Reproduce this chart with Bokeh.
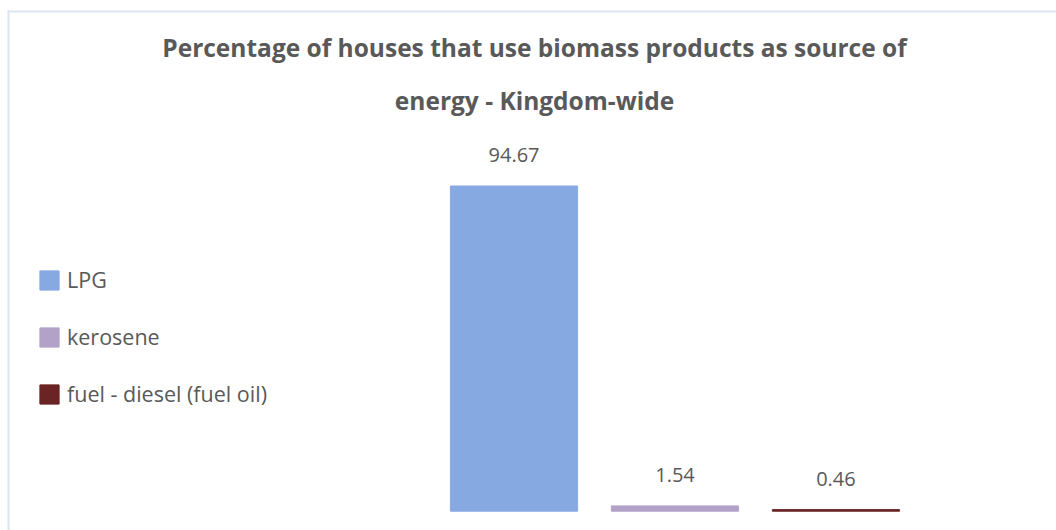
from bokeh.plotting import figure
from bokeh.models import ColumnDataSource, Label, Legend, LegendItem, BoxAnnotation, Range1d
from bokeh.core.properties import value
from bokeh.embed import file_html
from bokeh.resources import INLINE

# ---- data ----
categories = ["LPG", "kerosene", "fuel - diesel (fuel oil)"]
percentages = [94.67, 1.54, 0.46]
bar_colors = ["#87A9E1", "#B3A2C8", "#6B2424"]
title_lines = ["Percentage of houses that use biomass products as source of",
               "energy - Kingdom-wide"]

FONT = "Open Sans"
TXT = "#595959"

W, H = 1056, 530

src = ColumnDataSource(dict(
    x=list(range(len(categories))),
    cat=categories,
    val=percentages,
    color=bar_colors,
    lbl=[f"{v:.2f}" for v in percentages],
))

# plot frame covers the whole canvas; ranges chosen so that the bars sit
# in the right-hand part of the chart area as in the reference
p = figure(width=W, height=H,
           x_range=Range1d(-3.19, 3.37), y_range=Range1d(-5.62, 148.68),
           x_axis_type=None, y_axis_type=None,
           output_backend="svg", toolbar_location=None,
           min_border=0)
p.outline_line_color = None
p.background_fill_color = "white"
p.border_fill_color = "white"
p.xgrid.visible = False
p.ygrid.visible = False

bars = p.vbar(x="x", top="val", width=0.79, color="color", source=src)

p.text(x="x", y="val", text="lbl", source=src,
       text_font=value(FONT), text_font_size="20px", text_color=TXT,
       text_align="center", text_baseline="middle", y_offset=-31)

# legend at left
legend = Legend(items=[LegendItem(label=c, renderers=[bars], index=i)
                       for i, c in enumerate(categories)],
                location=(37, 122))
legend.glyph_width = 24
legend.glyph_height = 24
legend.label_text_font = FONT
legend.label_text_font_size = "21.5px"
legend.label_text_color = TXT
legend.label_standoff = 6
legend.spacing = 28
legend.padding = 0
legend.margin = 0
legend.border_line_color = None
legend.background_fill_alpha = 0
p.add_layout(legend, "center")

# title lines
for txt, yy in zip(title_lines, [H - 47, H - 100]):
    p.add_layout(Label(x=534, y=yy, x_units="screen", y_units="screen",
                       text=txt, text_font=FONT, text_font_size="24.5px",
                       text_font_style="bold", text_color=TXT,
                       text_align="center", text_baseline="middle"))

# thin light-blue frame lines at top and left
p.add_layout(BoxAnnotation(left=7, right=W, top=H - 10, bottom=H - 12,
                           left_units="screen", right_units="screen",
                           top_units="screen", bottom_units="screen",
                           fill_color="#DCE5F3", fill_alpha=1, line_color=None))
p.add_layout(BoxAnnotation(left=7, right=9, top=H - 10, bottom=0,
                           left_units="screen", right_units="screen",
                           top_units="screen", bottom_units="screen",
                           fill_color="#DCE5F3", fill_alpha=1, line_color=None))

open("out.html", "w").write(file_html(p, INLINE))
